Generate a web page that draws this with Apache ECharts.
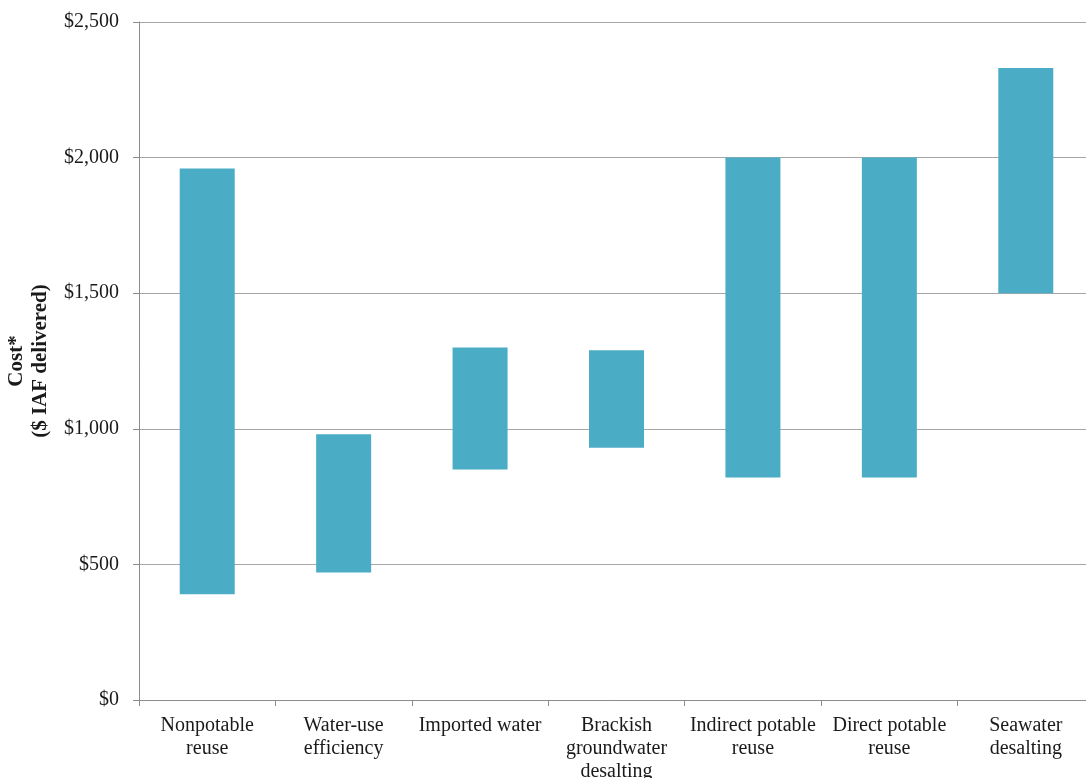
<!DOCTYPE html>
<html>
<head>
<meta charset="utf-8">
<title>Cost of water supply options</title>
<script src="https://cdn.jsdelivr.net/npm/echarts@6/dist/echarts.min.js"></script>
<style>
  html, body { margin: 0; padding: 0; background: #ffffff; }
  #chart { width: 1086px; height: 778px; }
</style>
</head>
<body>
<div id="chart"></div>
<script>
// Supply options and their delivered cost ranges ($ per acre-foot)
const categories = [
  'Nonpotable\nreuse',
  'Water-use\nefficiency',
  'Imported water',
  'Brackish\ngroundwater\ndesalting',
  'Indirect potable\nreuse',
  'Direct potable\nreuse',
  'Seawater\ndesalting'
];
const costLow  = [390, 470, 850, 930, 820, 820, 1500];
const costHigh = [1960, 980, 1300, 1290, 2000, 2000, 2330];
const yTicks = [0, 500, 1000, 1500, 2000, 2500];

// floating bars: an invisible base up to the low cost, then the range on top
const rangeSpan = costHigh.map((h, i) => h - costLow[i]);

const serif = "'Liberation Serif', 'Times New Roman', serif";

const chart = echarts.init(document.getElementById('chart'), null, { renderer: 'canvas' });
chart.setOption({
  animation: false,
  backgroundColor: '#ffffff',
  grid: {
    left: 139, right: -8, top: 22, bottom: 78,
    containLabel: false,
    outerBoundsMode: 'none'
  },
  xAxis: {
    type: 'category',
    data: categories,
    axisLine: { show: true, lineStyle: { color: '#8c8c8c', width: 1 } },
    axisTick: { show: true, alignWithLabel: false, length: 6, lineStyle: { color: '#8c8c8c' } },
    axisLabel: {
      interval: 0,
      margin: 14,
      color: '#1a1a1a',
      fontFamily: serif,
      fontSize: 20,
      lineHeight: 23
    },
    splitLine: { show: false }
  },
  yAxis: {
    type: 'value',
    min: yTicks[0],
    max: yTicks[yTicks.length - 1],
    interval: 500,
    name: 'Cost*\n($ IAF delivered)',
    nameLocation: 'middle',
    nameRotate: 90,
    nameGap: 86,
    nameTextStyle: {
      color: '#1a1a1a',
      fontFamily: serif,
      fontSize: 21,
      fontWeight: 'bold',
      lineHeight: 24,
      align: 'center'
    },
    axisLine: { show: true, lineStyle: { color: '#8c8c8c', width: 1 } },
    axisTick: { show: true, inside: false, length: 6, lineStyle: { color: '#8c8c8c' } },
    axisLabel: {
      margin: 20,
      color: '#1a1a1a',
      fontFamily: serif,
      fontSize: 20,
      formatter: v => '$' + v.toLocaleString('en-US')
    },
    splitLine: { show: true, lineStyle: { color: '#a6a6a6', width: 1 } }
  },
  series: [
    {
      name: 'base',
      type: 'bar',
      stack: 'range',
      data: costLow,
      barWidth: 55,
      itemStyle: { color: 'transparent' },
      silent: true
    },
    {
      name: 'Cost range',
      type: 'bar',
      stack: 'range',
      data: rangeSpan,
      barWidth: 55,
      itemStyle: { color: '#4bacc6' }
    }
  ]
});
</script>
</body>
</html>
